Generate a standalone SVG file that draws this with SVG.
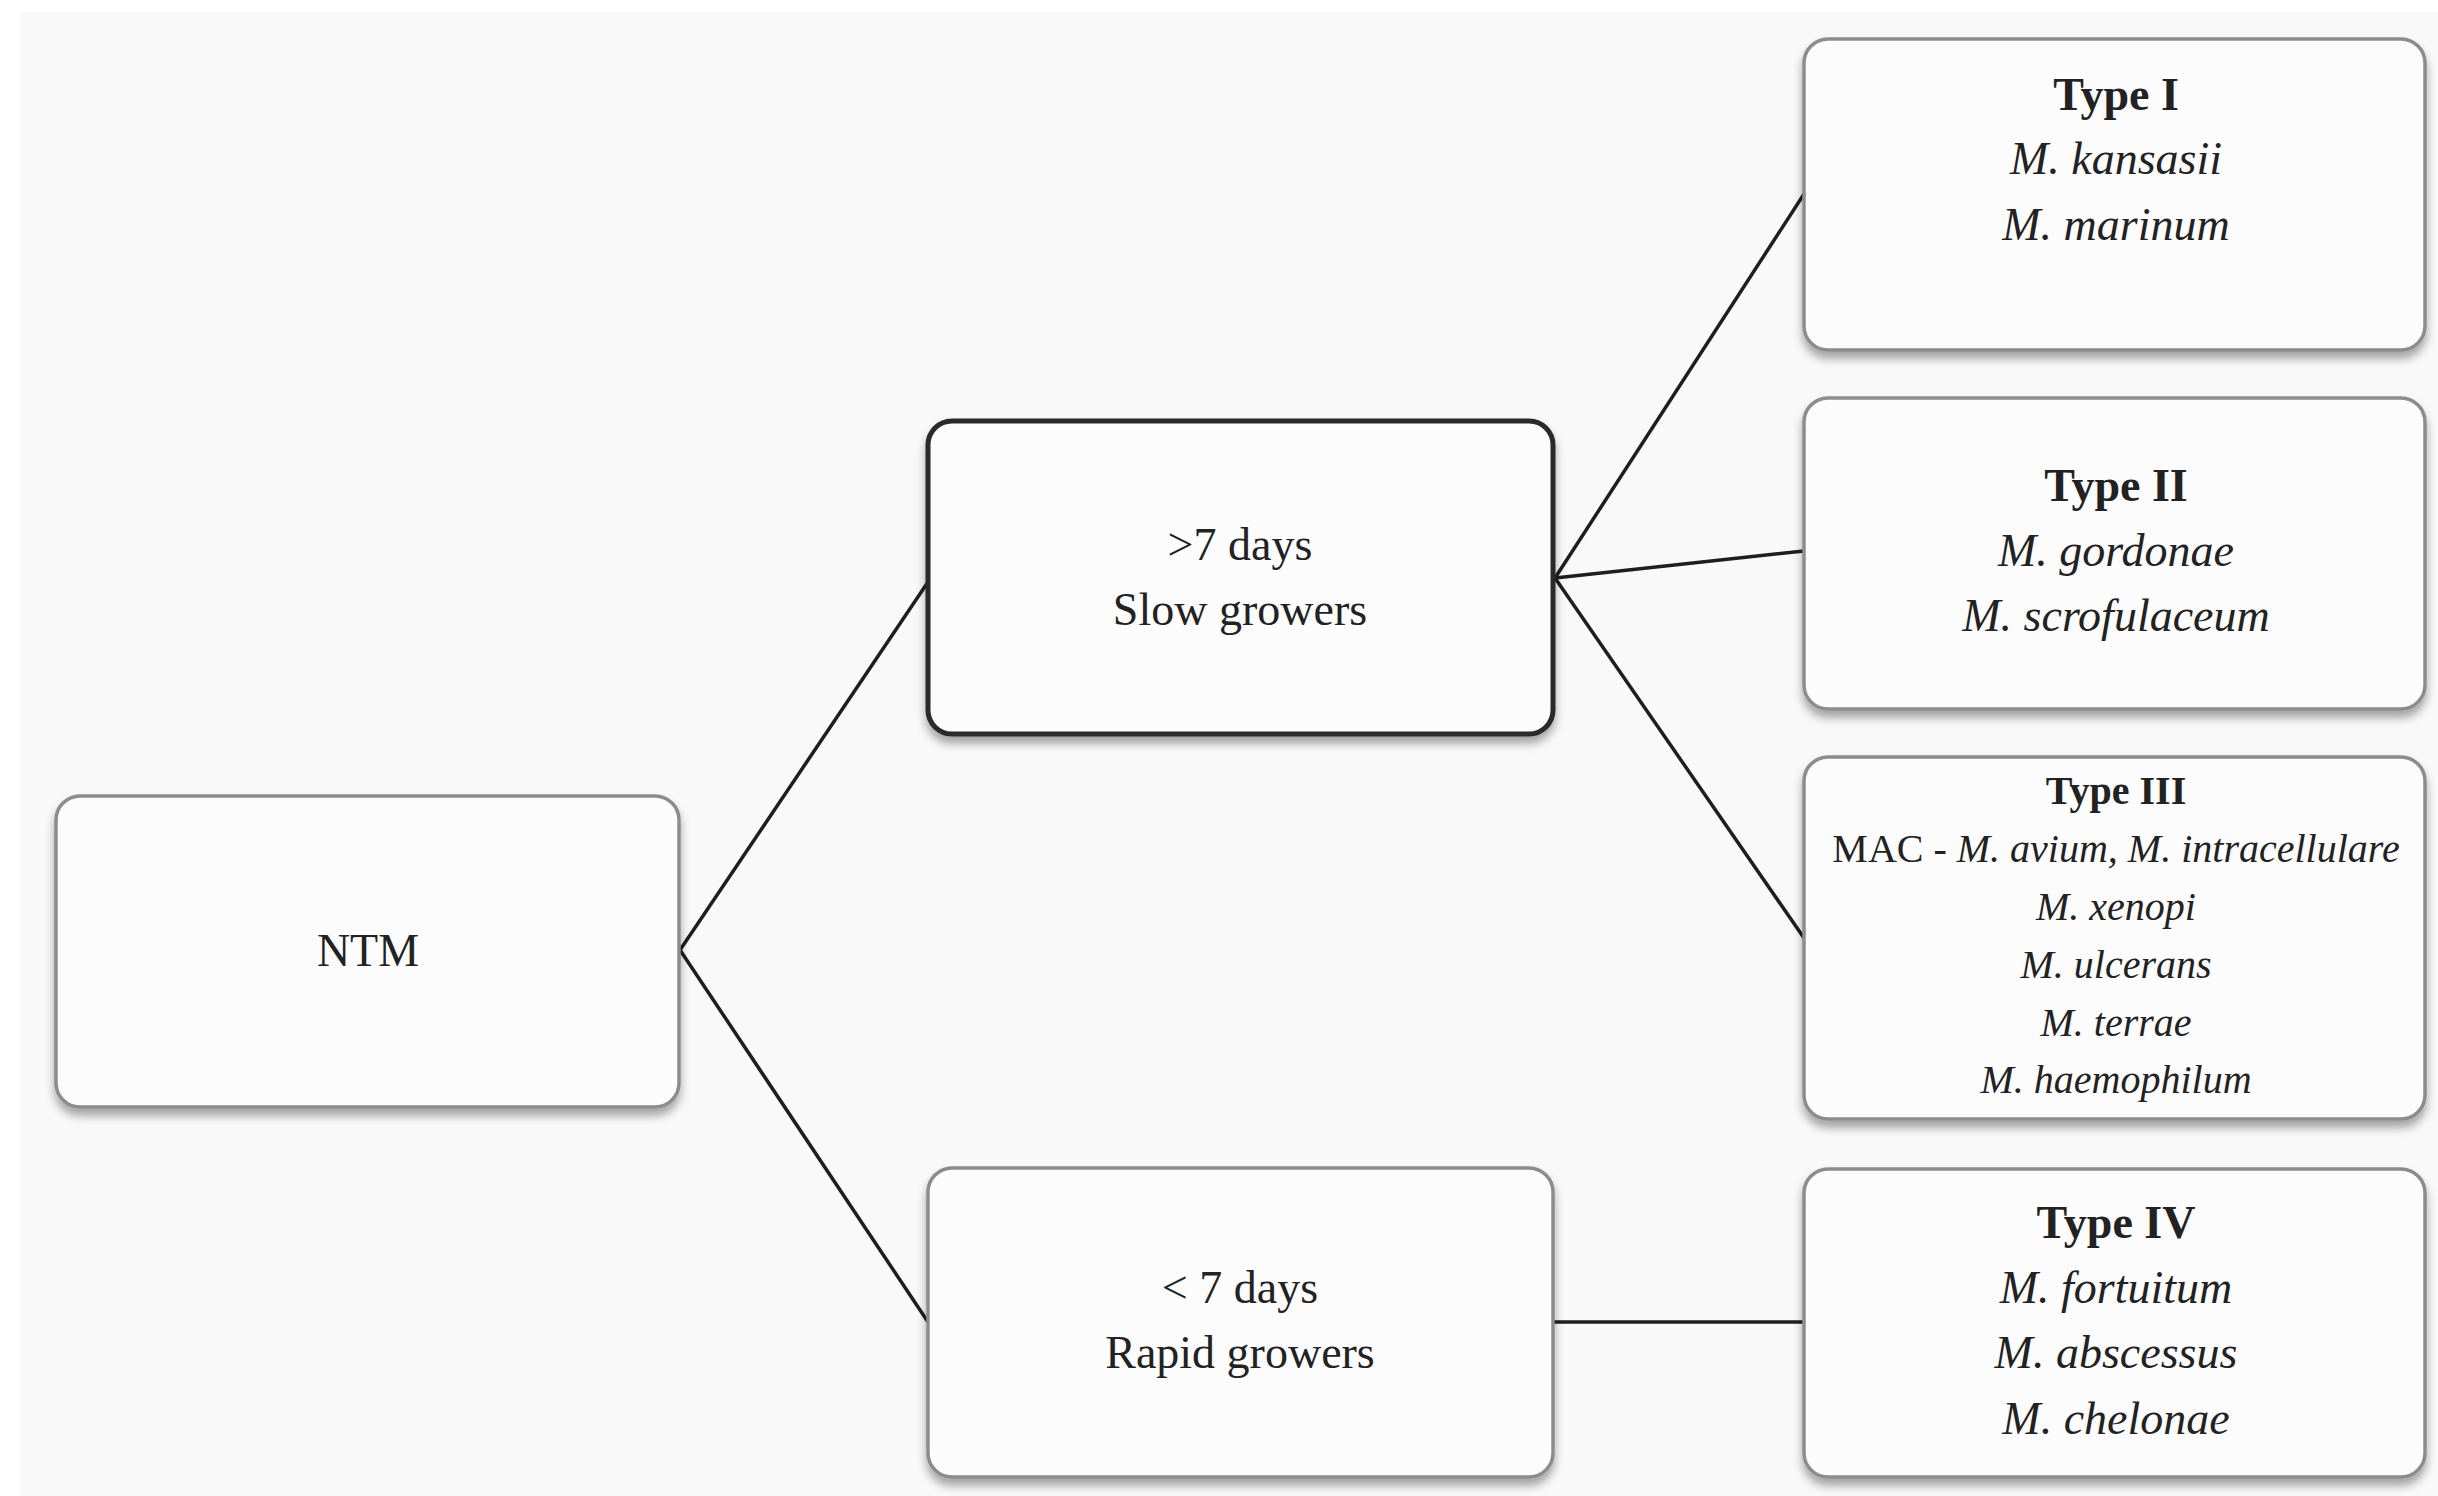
<svg xmlns="http://www.w3.org/2000/svg" width="2438" height="1496" viewBox="0 0 2438 1496">
<defs>
<filter id="sh" x="-10%" y="-10%" width="120%" height="130%">
<feDropShadow dx="0" dy="7" stdDeviation="5" flood-color="#000" flood-opacity="0.35"/>
</filter>
<style>
.box{fill:#fcfcfc;stroke:#8c8c8c;stroke-width:3.5;filter:url(#sh)}
.dark{stroke:#2a2a2a;stroke-width:5}
.t{font-family:"Liberation Serif","Times New Roman",serif;font-size:46px;fill:#222;text-anchor:middle}
.s{font-size:40px}
.b{font-weight:bold}
.i{font-style:italic}
.c{stroke:#1e1e1e;stroke-width:3.5;fill:none;stroke-linecap:round}
</style>
</defs>
<rect x="0" y="0" width="2438" height="1496" fill="#ffffff"/>
<rect x="20" y="12" width="2418" height="1484" fill="#f9f9f9"/>
<g id="connectors">
<line class="c" x1="680" y1="950" x2="928" y2="582"/>
<line class="c" x1="680" y1="950" x2="928" y2="1322"/>
<line class="c" x1="1555" y1="578" x2="1804" y2="194"/>
<line class="c" x1="1555" y1="578" x2="1804" y2="551"/>
<line class="c" x1="1555" y1="578" x2="1804" y2="938"/>
<line class="c" x1="1553" y1="1322" x2="1804" y2="1322"/>
</g>
<g id="ntm">
<rect class="box" x="56" y="796" width="623" height="311" rx="24"/>
<text class="t" x="368" y="966">NTM</text>
</g>
<g id="slow">
<rect class="box dark" x="928" y="421" width="625" height="313" rx="24"/>
<text class="t" x="1240" y="560">&gt;7 days</text>
<text class="t" x="1240" y="625">Slow growers</text>
</g>
<g id="rapid">
<rect class="box" x="928" y="1168" width="625" height="309" rx="24"/>
<text class="t" x="1240" y="1303">&lt; 7 days</text>
<text class="t" x="1240" y="1368">Rapid growers</text>
</g>
<g id="type1">
<rect class="box" x="1804" y="39" width="621" height="311" rx="24"/>
<text class="t b" x="2116" y="110">Type I</text>
<text class="t i" x="2116" y="174">M. kansasii</text>
<text class="t i" x="2116" y="240">M. marinum</text>
</g>
<g id="type2">
<rect class="box" x="1804" y="398" width="621" height="311" rx="24"/>
<text class="t b" x="2116" y="501">Type II</text>
<text class="t i" x="2116" y="566">M. gordonae</text>
<text class="t i" x="2116" y="631">M. scrofulaceum</text>
</g>
<g id="type3">
<rect class="box" x="1804" y="757" width="621" height="362" rx="24"/>
<text class="t s b" x="2116" y="804">Type III</text>
<text class="t s" x="2116" y="862">MAC - <tspan class="i">M. avium, M. intracellulare</tspan></text>
<text class="t s i" x="2116" y="920">M. xenopi</text>
<text class="t s i" x="2116" y="978">M. ulcerans</text>
<text class="t s i" x="2116" y="1036">M. terrae</text>
<text class="t s i" x="2116" y="1093">M. haemophilum</text>
</g>
<g id="type4">
<rect class="box" x="1804" y="1169" width="621" height="308" rx="24"/>
<text class="t b" x="2116" y="1238">Type IV</text>
<text class="t i" x="2116" y="1303">M. fortuitum</text>
<text class="t i" x="2116" y="1368">M. abscessus</text>
<text class="t i" x="2116" y="1434">M. chelonae</text>
</g>
</svg>
